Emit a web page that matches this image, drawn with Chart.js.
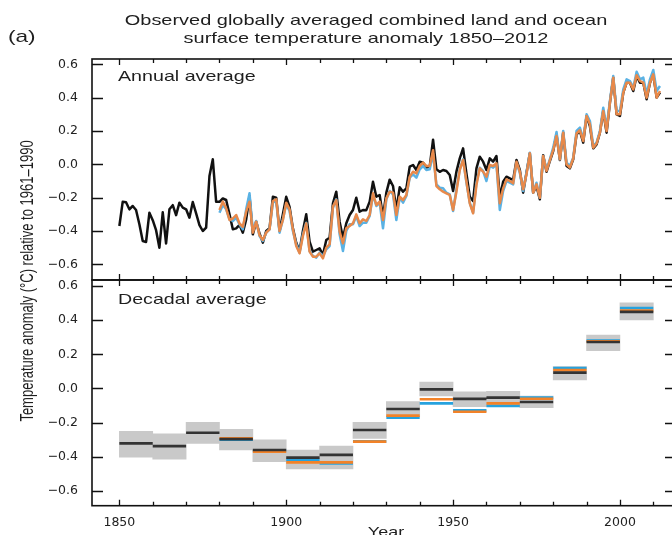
<!DOCTYPE html>
<html>
<head>
<meta charset="utf-8">
<title>Observed globally averaged combined land and ocean surface temperature anomaly 1850–2012</title>
<script src="https://cdn.jsdelivr.net/npm/chart.js@4.4.1/dist/chart.umd.min.js"></script>
<style>
  html, body { margin: 0; padding: 0; background: #fff; overflow: hidden; }
  #wrap { position: relative; width: 672px; height: 535px; overflow: hidden;
          font-family: "Liberation Sans", Arial, sans-serif; color: #1e1e1e; }
  canvas { position: absolute; left: 0; top: 0; }
  .lbl { position: absolute; white-space: nowrap; }
  #panelTag { left: 8px; top: 28px; font-size: 17px; line-height: 17px; transform: scaleX(1.33); transform-origin: 0 50%; }
  #title { left: 116px; top: 11px; width: 500px; text-align: center; font-size: 15px; line-height: 18px;
           transform: scaleX(1.33); transform-origin: 50% 50%; }
  #yTitle { left: -135px; top: 273px; width: 320px; height: 16px; text-align: center;
            transform: rotate(-90deg); transform-origin: 50% 50%; }
  #yTitle span { display: inline-block; font-size: 13px; line-height: 16px;
                 transform: scaleY(1.42); transform-origin: 50% 50%; }
  #annualTag { left: 118px; top: 68px; font-size: 15px; line-height: 15px; transform: scaleX(1.31); transform-origin: 0 50%; }
  #decadalTag { left: 118px; top: 291px; font-size: 15px; line-height: 15px; transform: scaleX(1.31); transform-origin: 0 50%; }
  #xTitle { left: 336px; top: 525px; width: 100px; text-align: center; font-size: 13.5px; line-height: 13.5px;
            transform: scaleX(1.33); transform-origin: 50% 50%; }
</style>
</head>
<body>
<div id="wrap">
  <canvas id="annualChart" width="700" height="535" style="width:700px;height:535px"></canvas>
  <canvas id="decadalChart" width="700" height="535" style="width:700px;height:535px"></canvas>
  <div class="lbl" id="panelTag">(a)</div>
  <div class="lbl" id="title">Observed globally averaged combined land and ocean<br>surface temperature anomaly 1850–2012</div>
  <div class="lbl" id="yTitle"><span>Temperature anomaly (°C) relative to 1961–1990</span></div>
  <div class="lbl" id="annualTag">Annual average</div>
  <div class="lbl" id="decadalTag">Decadal average</div>
  <div class="lbl" id="xTitle">Year</div>
</div>
<script>
// axis ticks
const yTickValues = [-0.6, -0.4, -0.2, 0.0, 0.2, 0.4, 0.6];
const xLabelYears = [1850, 1900, 1950, 2000];
const xMinorYears = [1850, 1860, 1870, 1880, 1890, 1900, 1910, 1920, 1930, 1940, 1950, 1960, 1970, 1980, 1990, 2000, 2010];

// annual anomalies, black series starts 1850, coloured ones start 1880
const hadStart = 1850;
const hadAnnual = [
  -0.37, -0.225, -0.228, -0.27, -0.25, -0.274, -0.36, -0.46, -0.466, -0.29,
  -0.335, -0.395, -0.50, -0.288, -0.475, -0.27, -0.245, -0.305, -0.23, -0.26,
  -0.27, -0.32, -0.226, -0.294, -0.365, -0.40, -0.38, -0.07, 0.03, -0.225,
  -0.225, -0.205, -0.214, -0.30, -0.39, -0.384, -0.364, -0.41, -0.33, -0.19,
  -0.42, -0.344, -0.415, -0.47, -0.40, -0.384, -0.195, -0.20, -0.40, -0.30,
  -0.195, -0.255, -0.384, -0.47, -0.52, -0.40, -0.30, -0.464, -0.524, -0.514,
  -0.504, -0.544, -0.454, -0.44, -0.234, -0.164, -0.344, -0.44, -0.354, -0.304,
  -0.274, -0.20, -0.284, -0.274, -0.275, -0.224, -0.104, -0.194, -0.184, -0.314,
  -0.17, -0.092, -0.13, -0.274, -0.138, -0.164, -0.144, -0.014, -0.004, -0.034,
  0.016, 0.01, -0.02, -0.014, 0.148, -0.03, -0.045, -0.034, -0.04, -0.064,
  -0.16, -0.044, 0.036, 0.096, -0.054, -0.194, -0.22, -0.024, 0.046, 0.016,
  -0.034, 0.036, 0.016, 0.05, -0.20, -0.104, -0.074, -0.084, -0.094, 0.026,
  -0.034, -0.17, -0.05, 0.066, -0.17, -0.13, -0.21, 0.055, -0.045, 0.02,
  0.08, 0.18, 0.026, 0.19, -0.01, -0.024, 0.03, 0.18, 0.20, 0.13,
  0.29, 0.23, 0.096, 0.12, 0.19, 0.32, 0.19, 0.37, 0.52, 0.30,
  0.29, 0.43, 0.49, 0.49, 0.44, 0.53, 0.49, 0.49, 0.39, 0.49,
  0.54, 0.40, 0.43
];
const otherStart = 1880;
const mlostAnnual = [
  -0.274, -0.224, -0.264, -0.334, -0.325, -0.304, -0.355, -0.375, -0.284, -0.224,
  -0.41, -0.344, -0.425, -0.454, -0.41, -0.39, -0.22, -0.21, -0.40, -0.334,
  -0.23, -0.27, -0.39, -0.49, -0.534, -0.43, -0.354, -0.524, -0.554, -0.554,
  -0.534, -0.564, -0.50, -0.48, -0.254, -0.214, -0.404, -0.474, -0.384, -0.37,
  -0.354, -0.30, -0.354, -0.33, -0.34, -0.304, -0.174, -0.244, -0.224, -0.334,
  -0.204, -0.164, -0.17, -0.304, -0.194, -0.214, -0.184, -0.074, -0.044, -0.054,
  -0.01, 0.01, -0.01, -0.01, 0.085, -0.13, -0.15, -0.164, -0.174, -0.184,
  -0.274, -0.164, -0.034, 0.026, -0.104, -0.234, -0.294, -0.124, -0.024, -0.044,
  -0.074, -0.004, -0.01, 0.006, -0.234, -0.144, -0.09, -0.10, -0.114, 0.016,
  -0.044, -0.15, -0.06, 0.066, -0.17, -0.12, -0.20, 0.05, -0.04, 0.025,
  0.085, 0.17, 0.03, 0.19, 0.0, -0.02, 0.035, 0.185, 0.205, 0.14,
  0.29, 0.24, 0.10, 0.125, 0.19, 0.32, 0.20, 0.37, 0.52, 0.30,
  0.30, 0.43, 0.49, 0.49, 0.45, 0.535, 0.50, 0.49, 0.40, 0.49,
  0.54, 0.40, 0.44
];
const gissAnnual = [
  -0.29, -0.244, -0.27, -0.33, -0.34, -0.32, -0.36, -0.39, -0.27, -0.174,
  -0.40, -0.34, -0.43, -0.46, -0.41, -0.39, -0.23, -0.22, -0.41, -0.33,
  -0.24, -0.28, -0.40, -0.48, -0.53, -0.42, -0.35, -0.52, -0.55, -0.56,
  -0.53, -0.55, -0.51, -0.49, -0.26, -0.21, -0.42, -0.52, -0.40, -0.36,
  -0.36, -0.31, -0.37, -0.35, -0.35, -0.31, -0.18, -0.25, -0.23, -0.384,
  -0.21, -0.16, -0.18, -0.334, -0.20, -0.23, -0.19, -0.08, -0.06, -0.08,
  -0.03, -0.01, -0.034, -0.03, 0.065, -0.12, -0.14, -0.144, -0.17, -0.18,
  -0.28, -0.15, -0.03, 0.03, -0.11, -0.23, -0.29, -0.11, -0.02, -0.04,
  -0.10, -0.01, -0.02, 0.0, -0.274, -0.16, -0.10, -0.11, -0.12, 0.01,
  -0.05, -0.16, -0.05, 0.07, -0.17, -0.11, -0.20, 0.05, -0.03, 0.03,
  0.10, 0.194, 0.03, 0.20, 0.01, -0.01, 0.04, 0.20, 0.22, 0.15,
  0.30, 0.26, 0.11, 0.13, 0.20, 0.34, 0.22, 0.38, 0.53, 0.32,
  0.32, 0.45, 0.51, 0.50, 0.46, 0.556, 0.51, 0.52, 0.42, 0.51,
  0.566, 0.44, 0.47
];

// decadal means (1850-1859 ... 2001-2010)
const decadeStarts = [1850, 1860, 1870, 1880, 1890, 1900, 1910, 1920, 1930, 1940, 1950, 1960, 1970, 1980, 1990, 2000];
const hadDecLow  = [-0.402, -0.413, -0.321, -0.36, -0.428, -0.471, -0.471, -0.292, -0.165, -0.044, -0.106, -0.106, -0.112, 0.05, 0.221, 0.401];
const hadDecHigh = [-0.25, -0.266, -0.198, -0.239, -0.301, -0.36, -0.337, -0.198, -0.077, 0.038, -0.02, -0.017, -0.044, 0.128, 0.313, 0.502];
const hadDecMean = [-0.321, -0.337, -0.259, -0.296, -0.36, -0.405, -0.389, -0.243, -0.12, -0.005, -0.061, -0.054, -0.079, 0.093, 0.272, 0.448];
const mlostDecMean = [null, null, null, -0.292, -0.37, -0.432, -0.432, -0.311, -0.159, -0.063, -0.136, -0.087, -0.06, 0.108, 0.276, 0.456];
const gissDecMean  = [null, null, null, -0.30, -0.365, -0.418, -0.438, -0.31, -0.171, -0.087, -0.128, -0.102, -0.054, 0.12, 0.28, 0.47];

const BLACK = '#111111';
const ORANGE_LINE = '#e8894a';
const BLUE_LINE = '#5ab2e4';
const ORANGE_BAR = '#f28228';
const BLUE_BAR = '#27a2de';
const tickFont = { family: 'DejaVu Sans', size: 12.5 };

function fmtTick(v) {
  return (v < 0 ? '\u2212' : '') + Math.abs(v).toFixed(1);
}

function annualPoints(start, values) {
  return values.map((v, i) => ({ x: start + i, y: v }));
}

// each decade becomes a flat segment, broken from its neighbour by a null
function decadePoints(values) {
  const pts = [];
  decadeStarts.forEach((d, i) => {
    if (values[i] === null) return;
    pts.push({ x: d, y: values[i] }, { x: d + 10, y: values[i] }, { x: d + 10, y: null });
  });
  return pts;
}

// box frame and inward tick marks on all four sides
const frameTicks = {
  id: 'frameTicks',
  afterDatasetsDraw(chart) {
    const { ctx, chartArea: a } = chart;
    const x = chart.scales.x, y = chart.scales.y;
    ctx.save();
    ctx.strokeStyle = BLACK;
    ctx.lineWidth = 1.3;
    ctx.beginPath();
    yTickValues.forEach(v => {
      const py = Math.round(y.getPixelForValue(v)) + 0.5;
      ctx.moveTo(a.left, py); ctx.lineTo(a.left + 11, py);
      ctx.moveTo(a.right, py); ctx.lineTo(a.right - 11, py);
    });
    xMinorYears.forEach(v => {
      const px = Math.round(x.getPixelForValue(v)) + 0.5;
      const len = xLabelYears.includes(v) ? 6 : 4;
      ctx.moveTo(px, a.top); ctx.lineTo(px, a.top + len);
      ctx.moveTo(px, a.bottom); ctx.lineTo(px, a.bottom - len);
    });
    ctx.stroke();
    ctx.lineWidth = 1.6;
    ctx.strokeRect(a.left, a.top, a.right - a.left, a.bottom - a.top);
    ctx.restore();
  }
};

const xRange = { min: 1841.8, max: 2016.8 };

function yAxis(min, max) {
  return {
    type: 'linear',
    min: min,
    max: max,
    grid: { display: false },
    border: { display: false },
    afterFit: s => { s.width = 92; },
    afterBuildTicks: s => { s.ticks = yTickValues.map(v => ({ value: v })); },
    ticks: { font: tickFont, color: '#222', padding: 6, callback: fmtTick }
  };
}

// top panel: annual series
new Chart(document.getElementById('annualChart'), {
  type: 'line',
  data: {
    datasets: [
      { label: 'MLOST', data: annualPoints(otherStart, mlostAnnual), borderColor: ORANGE_LINE, order: 0 },
      { label: 'GISS', data: annualPoints(otherStart, gissAnnual), borderColor: BLUE_LINE, order: 1 },
      { label: 'HadCRUT4', data: annualPoints(hadStart, hadAnnual), borderColor: BLACK, order: 2 }
    ]
  },
  options: {
    responsive: false,
    animation: false,
    events: [],
    layout: { padding: { top: 59, right: 24, bottom: 255, left: 0 } },
    elements: {
      point: { radius: 0 },
      line: { borderWidth: 2.5, tension: 0, borderJoinStyle: 'round' }
    },
    plugins: { legend: { display: false }, tooltip: { enabled: false } },
    scales: {
      x: { type: 'linear', display: false, min: xRange.min, max: xRange.max },
      y: yAxis(-0.694, 0.632)
    }
  },
  plugins: [frameTicks]
});

// bottom panel: decadal means with uncertainty boxes
new Chart(document.getElementById('decadalChart'), {
  type: 'line',
  data: {
    datasets: [
      { label: 'HadCRUT4', data: decadePoints(hadDecMean), borderColor: '#333333', order: 0 },
      { label: 'MLOST', data: decadePoints(mlostDecMean), borderColor: ORANGE_BAR, order: 1 },
      { label: 'GISS', data: decadePoints(gissDecMean), borderColor: BLUE_BAR, order: 2 },
      {
        type: 'bar',
        label: 'HadCRUT4 range',
        data: decadeStarts.map((d, i) => ({ x: d + 5, y: [hadDecLow[i], hadDecHigh[i]] })),
        backgroundColor: '#c9c9c9',
        borderWidth: 0,
        barPercentage: 1,
        categoryPercentage: 1,
        order: 3
      }
    ]
  },
  options: {
    responsive: false,
    animation: false,
    events: [],
    layout: { padding: { top: 280, right: 24, bottom: 0, left: 0 } },
    elements: {
      point: { radius: 0 },
      line: { borderWidth: 2.7, tension: 0, borderCapStyle: 'butt' }
    },
    spanGaps: false,
    plugins: { legend: { display: false }, tooltip: { enabled: false } },
    scales: {
      x: {
        type: 'linear',
        min: xRange.min,
        max: xRange.max,
        offset: false,
        grid: { display: false },
        border: { display: false },
        afterFit: s => { s.height = 29.3; },
        afterBuildTicks: s => { s.ticks = xLabelYears.map(v => ({ value: v })); },
        ticks: { font: tickFont, color: '#222', padding: 2, maxRotation: 0, callback: v => String(v) }
      },
      y: yAxis(-0.686, 0.635)
    }
  },
  plugins: [frameTicks]
});
</script>
</body>
</html>
